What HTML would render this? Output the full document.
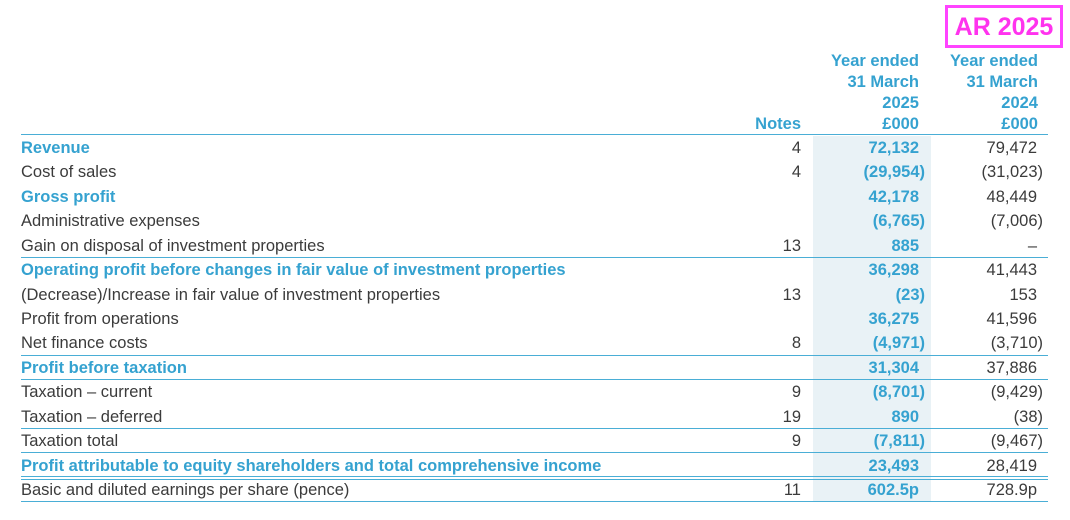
<!DOCTYPE html>
<html><head><meta charset="utf-8"><style>
body{margin:0;width:1070px;height:520px;background:#fff;position:relative;font-family:"Liberation Sans",sans-serif;font-size:16.5px;color:#3b3b3b;overflow:hidden}
.a{position:absolute;white-space:nowrap;line-height:20px}
.b{color:#35a2d0;font-weight:bold}
.r{text-align:right}
.ln{position:absolute;left:21px;width:1027px;height:0;border-top:1.5px solid #4aaed6}
.sh{position:absolute;left:813px;width:118px;top:136px;height:366px;background:#e9f2f6}
.box{position:absolute;left:945px;top:5px;width:112px;height:37px;border:3px solid #ff44ff;color:#ff33ee;font-weight:bold;font-size:25px;line-height:39px;text-align:center}
.p{display:inline-block;width:6px}
</style></head><body>
<div class="sh"></div>
<div class="box">AR 2025</div>
<div class="a r b" style="left:800px;width:119px;top:51px;line-height:21px">Year ended<br>31 March<br>2025<br>£000</div>
<div class="a r b" style="left:920px;width:118px;top:51px;line-height:21px">Year ended<br>31 March<br>2024<br>£000</div>
<div class="a r b" style="left:700px;width:101px;top:114px;line-height:21px">Notes</div>
<div class="ln" style="top:134px"></div>
<div class="ln" style="top:257px"></div>
<div class="ln" style="top:355px"></div>
<div class="ln" style="top:379px"></div>
<div class="ln" style="top:428px"></div>
<div class="ln" style="top:452px"></div>
<div class="ln" style="top:476px"></div>
<div class="ln" style="top:479px"></div>
<div class="ln" style="top:501px"></div>
<div id="rows"></div>
<script>
var d=[["Revenue",1,"4","72,132","79,472"],["Cost of sales",0,"4","(29,954)","(31,023)"],["Gross profit",1,"","42,178","48,449"],["Administrative expenses",0,"","(6,765)","(7,006)"],["Gain on disposal of investment properties",0,"13","885","–"],["Operating profit before changes in fair value of investment properties",1,"","36,298","41,443"],["(Decrease)/Increase in fair value of investment properties",0,"13","(23)","153"],["Profit from operations",0,"","36,275","41,596"],["Net finance costs",0,"8","(4,971)","(3,710)"],["Profit before taxation",1,"","31,304","37,886"],["Taxation – current",0,"9","(8,701)","(9,429)"],["Taxation – deferred",0,"19","890","(38)"],["Taxation total",0,"9","(7,811)","(9,467)"],["Profit attributable to equity shareholders and total comprehensive income",1,"","23,493","28,419"],["Basic and diluted earnings per share (pence)",0,"11","602.5p","728.9p"]];
var h="";
function v(s){return s.indexOf(")")>=0?s:s+'<span class="p"></span>'}
d.forEach(function(r,i){var t=138+i*24.43;
h+='<div class="a'+(r[1]?' b':'')+'" style="left:21px;top:'+t+'px">'+r[0]+'</div>';
h+='<div class="a r" style="left:700px;width:101px;top:'+t+'px">'+r[2]+'</div>';
h+='<div class="a r b" style="left:800px;width:125px;top:'+t+'px">'+v(r[3])+'</div>';
h+='<div class="a r" style="left:920px;width:123px;top:'+t+'px">'+v(r[4])+'</div>';});
document.getElementById("rows").innerHTML=h;
</script>
</body></html>
